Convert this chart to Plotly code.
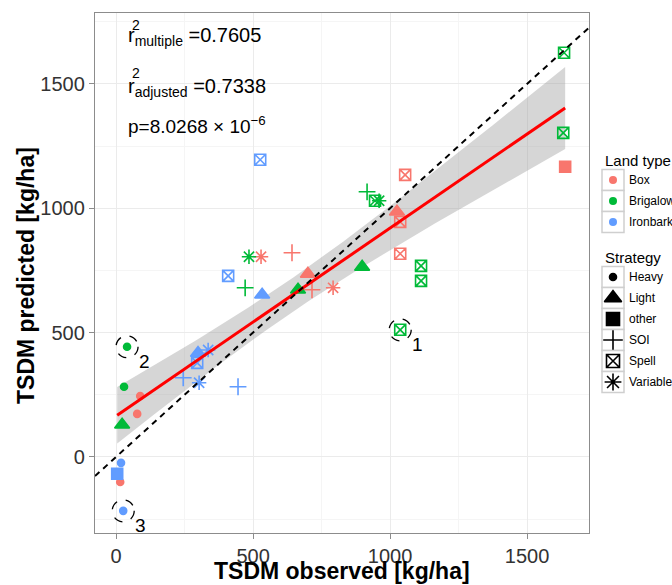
import numpy as np
import plotly.graph_objects as go

# ---------------- data ----------------
land_types = ["Box", "Brigalow", "Ironbark"]
land_colors = ["#F8766D", "#00BA38", "#619CFF"]
strategies = ["Heavy", "Light", "other", "SOI", "Spell", "Variable"]

box_obs = [88, 77, 15, 1025, 700, 1639, 642, 715, 1055, 1037, 1037, 529, 792]
box_pred = [245, 173, -101, 986, 736, 1167, 821, 672, 1134, 945, 817, 805, 680]
box_strat = ["Heavy", "Heavy", "Heavy", "Light", "Light", "other", "SOI", "SOI",
             "Spell", "Spell", "Spell", "Variable", "Variable"]

brig_obs = [40, 29, 22, 664, 898, 916, 471, 1635, 1632, 945, 1113, 1113, 1037, 960, 485]
brig_pred = [443, 282, 129, 672, 764, 1066, 680, 1625, 1303, 1030, 768, 708, 511, 1030, 805]
brig_strat = ["Heavy", "Heavy", "Light", "Light", "Light", "SOI", "SOI",
              "Spell", "Spell", "Spell", "Spell", "Spell", "Spell", "Variable", "Variable"]

iron_obs = [18, 26, 533, 299, 4, 445, 245, 526, 409, 296, 336, 303]
iron_pred = [-24, -217, 652, 418, -68, 282, 318, 1195, 728, 378, 430, 298]
iron_strat = ["Heavy", "Heavy", "Light", "Light", "other", "SOI", "SOI",
              "Spell", "Spell", "Spell", "Variable", "Variable"]

# outliers: (land type, index in that land type's lists, label)
outlier_land = ["Brigalow", "Brigalow", "Ironbark"]
outlier_index = [12, 0, 1]
outlier_label = ["1", "2", "3"]

stat_r2_multiple = "0.7605"
stat_r2_adjusted = "0.7338"
stat_p = "8.0268 × 10<sup>−6</sup>"

x_ticks = [0, 500, 1000, 1500]
y_ticks = [0, 500, 1000, 1500]
x_range = [-77, 1726]
y_range = [-306, 1785]

# ---------------- styling ----------------
sym_map = {"Heavy": "circle", "Light": "triangle-up", "other": "square",
           "SOI": "cross-thin-open", "Spell": "square-x-open", "Variable": "asterisk-open"}
size_map = {"Heavy": 7, "Light": 13, "other": 11, "SOI": 12, "Spell": 11, "Variable": 12}
FONT = "Liberation Sans, Arial, sans-serif"

data = {
    "Box": (box_obs, box_pred, box_strat),
    "Brigalow": (brig_obs, brig_pred, brig_strat),
    "Ironbark": (iron_obs, iron_pred, iron_strat),
}

fig = go.Figure()

# ---------------- regression fit with 95% CI ----------------
all_x = np.array(box_obs + brig_obs + iron_obs, dtype=float)
all_y = np.array(box_pred + brig_pred + iron_pred, dtype=float)
n = len(all_x)
b1, b0 = np.polyfit(all_x, all_y, 1)
resid = all_y - (b0 + b1 * all_x)
s = np.sqrt(np.sum(resid ** 2) / (n - 2))
xbar = all_x.mean()
sxx = np.sum((all_x - xbar) ** 2)
t_crit = 2.024
xs = np.linspace(all_x.min(), all_x.max(), 100)
ys = b0 + b1 * xs
se = s * np.sqrt(1.0 / n + (xs - xbar) ** 2 / sxx)
upper = ys + t_crit * se
lower = ys - t_crit * se

fig.add_trace(go.Scatter(
    x=np.concatenate([xs, xs[::-1]]), y=np.concatenate([upper, lower[::-1]]),
    fill="toself", fillcolor="rgba(153,153,153,0.4)", line=dict(width=0),
    mode="lines", hoverinfo="skip", showlegend=False))

# ---------------- points ----------------
for lt, col in zip(land_types, land_colors):
    ox, py, st = data[lt]
    for strat in strategies:
        idx = [i for i, v in enumerate(st) if v == strat]
        if not idx:
            continue
        fig.add_trace(go.Scatter(
            x=[ox[i] for i in idx], y=[py[i] for i in idx], mode="markers",
            marker=dict(symbol=sym_map[strat], size=size_map[strat], color=col,
                        line=dict(width=1.6, color=col)),
            showlegend=False, name=f"{lt} {strat}"))

# regression line
fig.add_trace(go.Scatter(x=xs, y=ys, mode="lines", line=dict(color="#FF0000", width=3),
                         showlegend=False, hoverinfo="skip"))

# 1:1 line
fig.add_trace(go.Scatter(x=x_range, y=x_range, mode="lines",
                         line=dict(color="black", width=2, dash="6px,5px"),
                         showlegend=False, hoverinfo="skip"))

shapes = []
annotations = []

# outlier circles and labels
for lt, i, lab in zip(outlier_land, outlier_index, outlier_label):
    ox, py, _ = data[lt]
    shapes.append(dict(type="circle", xref="x", yref="y", xsizemode="pixel", ysizemode="pixel",
                       xanchor=ox[i], yanchor=py[i], x0=-11, x1=11, y0=-11, y1=11,
                       line=dict(color="black", width=1.3, dash="dash"), layer="above"))
    annotations.append(dict(x=ox[i], y=py[i], xref="x", yref="y", text=lab, showarrow=False,
                            xshift=17, yshift=-15, font=dict(size=19, color="black", family=FONT)))

# ---------------- layout geometry ----------------
W, H = 672, 585
ML, MR, MT, MB = 95, 0, 13, 52
PW = W - ML - MR
PH = H - MT - MB
plot_right = 589


def px(xp):
    return (xp - ML) / PW


def py_(yp):
    return (H - MB - yp) / PH


# stats text
annotations += [
    dict(xref="paper", yref="paper", x=px(126), y=py_(37), xanchor="left", yanchor="middle",
         text=f"r<sub>multiple</sub> ={stat_r2_multiple}", showarrow=False,
         font=dict(size=20, color="black", family=FONT)),
    dict(xref="paper", yref="paper", x=px(136), y=py_(25), xanchor="center", yanchor="middle",
         text="2", showarrow=False, font=dict(size=14, color="black", family=FONT)),
    dict(xref="paper", yref="paper", x=px(126), y=py_(87), xanchor="left", yanchor="middle",
         text=f"r<sub>adjusted</sub> ={stat_r2_adjusted}", showarrow=False,
         font=dict(size=20, color="black", family=FONT)),
    dict(xref="paper", yref="paper", x=px(136), y=py_(73), xanchor="center", yanchor="middle",
         text="2", showarrow=False, font=dict(size=14, color="black", family=FONT)),
    dict(xref="paper", yref="paper", x=px(126), y=py_(125), xanchor="left", yanchor="middle",
         text=f"p={stat_p}", showarrow=False,
         font=dict(size=19, color="black", family=FONT)),
]

# axis titles
annotations += [
    dict(xref="paper", yref="paper", x=px((ML + plot_right) / 2), y=py_(571), xanchor="center",
         yanchor="middle", text="<b>TSDM observed [kg/ha]</b>", showarrow=False,
         font=dict(size=23, color="black", family=FONT)),
    dict(xref="paper", yref="paper", x=px(26), y=py_(276), xanchor="center", yanchor="middle",
         text="<b>TSDM predicted [kg/ha]</b>", showarrow=False, textangle=-90,
         font=dict(size=23, color="black", family=FONT)),
]

# ---------------- manual legend on overlay axes (pixel coordinates) ----------------
LX0 = 598
key_x0, key_x1 = 602, 624
row_h = 21
lt_title_y = 160
st_title_y = 257
key_cx = (key_x0 + key_x1) / 2

annotations.append(dict(xref="x2", yref="y2", x=603, y=lt_title_y, xanchor="left", yanchor="middle",
                        text="Land type", showarrow=False, font=dict(size=15, color="black", family=FONT)))
annotations.append(dict(xref="x2", yref="y2", x=603, y=st_title_y, xanchor="left", yanchor="middle",
                        text="Strategy", showarrow=False, font=dict(size=15, color="black", family=FONT)))

lt_y = [lt_title_y + 20 + row_h * i for i in range(len(land_types))]
st_y = [st_title_y + 20 + row_h * i for i in range(len(strategies))]

for yy in lt_y + st_y:
    shapes.append(dict(type="rect", xref="x2", yref="y2", x0=key_x0, x1=key_x1,
                       y0=yy - row_h / 2, y1=yy + row_h / 2,
                       line=dict(color="#CFCFCF", width=1.5), fillcolor="white", layer="below"))

fig.add_trace(go.Scatter(x=[key_cx] * len(land_types), y=lt_y, xaxis="x2", yaxis="y2", mode="markers",
                         marker=dict(symbol="circle", size=8, color=land_colors),
                         showlegend=False, hoverinfo="skip"))
for strat, yy in zip(strategies, st_y):
    fig.add_trace(go.Scatter(x=[key_cx], y=[yy], xaxis="x2", yaxis="y2", mode="markers",
                             marker=dict(symbol=sym_map[strat], size=size_map[strat] + 2 if strat != "Heavy" else 7,
                                         color="black", line=dict(width=1.6, color="black")),
                             showlegend=False, hoverinfo="skip"))
for lab, yy in zip(land_types, lt_y):
    annotations.append(dict(xref="x2", yref="y2", x=627, y=yy, xanchor="left", yanchor="middle",
                            text=lab, showarrow=False, font=dict(size=12, color="black", family=FONT)))
for lab, yy in zip(strategies, st_y):
    annotations.append(dict(xref="x2", yref="y2", x=627, y=yy, xanchor="left", yanchor="middle",
                            text=lab, showarrow=False, font=dict(size=12, color="black", family=FONT)))

axis_common = dict(
    showgrid=True, gridcolor="#EBEBEB", gridwidth=1.2, zeroline=False,
    showline=True, linecolor="#8C8C8C", linewidth=1.3, mirror=True,
    ticks="outside", ticklen=5, tickcolor="#8C8C8C", tickwidth=1.2,
    tickfont=dict(size=20, color="#333333", family=FONT),
    minor=dict(dtick=250, showgrid=True, gridcolor="#F5F5F5", gridwidth=1, ticks=""),
)

fig.update_layout(
    width=W, height=H,
    margin=dict(l=ML, r=MR, t=MT, b=MB),
    paper_bgcolor="white", plot_bgcolor="white",
    font=dict(family=FONT),
    xaxis=dict(range=x_range, domain=[0, px(plot_right)], tickvals=x_ticks, **axis_common),
    yaxis=dict(range=y_range, tickvals=y_ticks, **axis_common),
    xaxis2=dict(range=[LX0, W], domain=[px(LX0), 1], visible=False, anchor="y2"),
    yaxis2=dict(range=[MT + PH, MT], domain=[0, 1], visible=False, anchor="x2"),
    shapes=shapes, annotations=annotations, showlegend=False,
)

fig.write_html("out.html", config={"displayModeBar": False},
               post_script="document.body.style.margin='0';document.body.style.overflow='hidden';")
